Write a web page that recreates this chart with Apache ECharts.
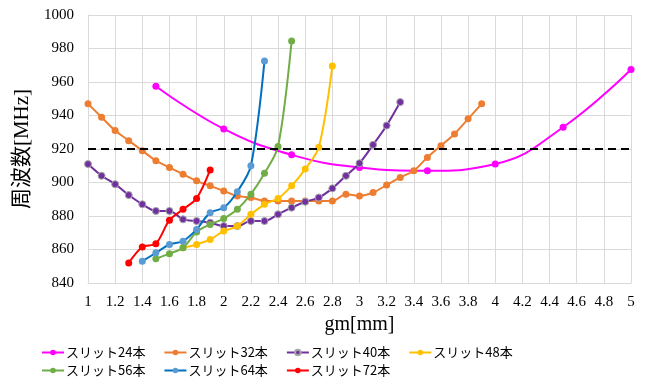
<!DOCTYPE html>
<html><head><meta charset="utf-8">
<script src="https://cdn.jsdelivr.net/npm/echarts@6/dist/echarts.min.js"></script>
<style>html,body{margin:0;padding:0;background:#fff}#c{width:647px;height:378px}</style>
</head><body><div id="c"></div>
<script>
const names = ['スリット24本','スリット32本','スリット40本','スリット48本','スリット56本','スリット64本','スリット72本'];
const x24 = [1.5,2,2.5,3,3.5,4,4.5,5];
const y24 = [957.5,932,916.5,909,907,911,933,967.5];
const x32start = 1.0;
const y32 = [947,939,931,925,919,913,909,905,901,898,895,892,891,889,889,889,889,889,889,893,892,894,898.5,903,907,915,922,929,938,947];
const x40start = 1.0;
const y40 = [911,904,899,892.5,887,883,883,878,877,876,874,874,877,877,881,885,888.5,891,896.5,904,911.5,922.5,934,948];
const x48start = 1.7;
const y48 = [861,863,866,871,874,881,887,890.5,898,908,921,969.5];
const x56start = 1.5;
const y56 = [854.5,857.5,861,870.5,875,878.5,884,893,905.5,921.5,984.5];
const x64start = 1.4;
const y64 = [853,858,863,865,872,882,885,894.5,910,972.5];
const x72start = 1.3;
const y72 = [852,861.5,863.5,877.5,884,890.5,907.5];
const refLine = 920;
const xTicks = {min:1, max:5, interval:0.2};
const yTicks = {min:840, max:1000, interval:20};

function seq(start, ys){ return ys.map((v,i)=>[Math.round((start+i*0.1)*10)/10, v]); }

const colors = ['#FF00FF','#ED7D31','#7030A0','#FFC000','#70AD47','#0070C0','#FF0000'];
const markerColors = ['#FF00FF','#ED7D31','#7030A0','#FFC000','#70AD47','#5B9BD5','#FF0000'];
const datas = [
  x24.map((x,i)=>[x,y24[i]]),
  seq(x32start,y32), seq(x40start,y40), seq(x48start,y48),
  seq(x56start,y56), seq(x64start,y64), seq(x72start,y72)
];

const series = datas.map((d,i)=>({
  name: names[i], type:'line', data:d,
  smooth: i===0 ? 0.45 : 0.3,
  symbol:'circle', symbolSize:7,
  lineStyle:{color:colors[i], width:2},
  itemStyle:{color:markerColors[i], borderColor: i===2 ? '#a6a6a6' : markerColors[i], borderWidth: i===2?1:0},
  color: markerColors[i],
  z: 2+i
}));
series[0].markLine = {
  silent:true, symbol:'none', label:{show:false},
  lineStyle:{color:'#000', type:[8,5], width:2},
  data:[{yAxis:refLine}], z:20
};

const legendCommon = {
  orient:'horizontal', itemWidth:22, itemHeight:7, itemGap:18,
  textStyle:{fontFamily:'Noto Sans CJK JP', fontSize:13, color:'#000', padding:[0,0,0,-3]}
};

const chart = echarts.init(document.getElementById('c'));
chart.setOption({
  animation:false,
  backgroundColor:'#fff',
  grid:{left:88, right:16, top:15, bottom:95},
  legend:[
    Object.assign({}, legendCommon, {left:36, top:341, data:names.slice(0,4)}),
    Object.assign({}, legendCommon, {left:36, top:359, data:names.slice(4)})
  ],
  xAxis:{
    type:'value', min:xTicks.min, max:xTicks.max, interval:xTicks.interval,
    name:'gm[mm]', nameLocation:'middle', nameGap:32,
    nameTextStyle:{fontFamily:'Liberation Serif', fontSize:20, color:'#000'},
    axisLine:{show:true, lineStyle:{color:'#d9d9d9'}},
    axisTick:{show:false},
    axisLabel:{fontFamily:'Liberation Serif', fontSize:15, color:'#000', margin:12,
      formatter:v=>String(Math.round(v*10)/10)},
    splitLine:{show:true, lineStyle:{color:'#d9d9d9', width:1}}
  },
  yAxis:{
    type:'value', min:yTicks.min, max:yTicks.max, interval:yTicks.interval,
    name:'周波数[MHz]', nameLocation:'middle', nameGap:43, nameRotate:90,
    nameTextStyle:{fontFamily:"'Liberation Serif','Noto Sans CJK JP'", fontSize:21, color:'#000'},
    axisLine:{show:true, lineStyle:{color:'#d9d9d9'}},
    axisTick:{show:false},
    axisLabel:{fontFamily:'Liberation Serif', fontSize:15, color:'#000', margin:14,
      formatter:v=>String(v)},
    splitLine:{show:true, lineStyle:{color:'#d9d9d9', width:1}}
  },
  series: series
});
</script></body></html>
